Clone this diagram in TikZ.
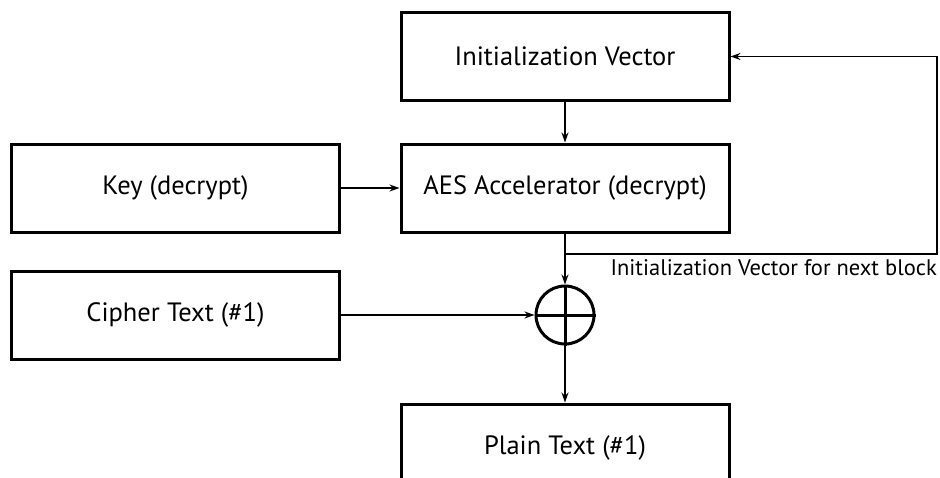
\documentclass[tikz,border=0pt]{standalone}
\usepackage{fontspec}
\setmainfont{PT Sans}
\usetikzlibrary{arrows.meta}
\begin{document}
\begin{tikzpicture}[x=1pt,y=-1pt,
  blk/.style={draw, line width=3pt, minimum width=328pt, minimum height=88pt, inner sep=0pt, font=\fontsize{26.5}{30}\selectfont},
  xorgate/.style={draw, circle, line width=3pt, minimum size=58pt, inner sep=0pt},
  arr/.style={line width=1.6pt, -{Stealth[length=10pt,width=7pt]}},
  ln/.style={line width=1.6pt}]
\clip (0,0) rectangle (940,477);
\node[blk] (iv) at (565,56.5) {Initialization Vector};
\node[blk] (aes) at (565,188) {AES Accelerator (decrypt)};
\node[blk] (key) at (175.5,188) {Key (decrypt)};
\node[blk] (ct) at (175.5,315) {Cipher Text (\#1)};
\node[blk] (pt) at (565,448) {Plain Text (\#1)};
\node[xorgate] (x) at (565,315) {};
\draw[line width=3pt] (x.north) -- (x.south) (x.west) -- (x.east);
\coordinate (br) at (565,254);
\coordinate (rc) at (937,254);
\coordinate (tc) at (937,56.5);
\draw[arr] (iv) -- (aes);
\draw[arr] (key) -- (aes);
\draw[arr] (aes) -- (x);
\draw[arr] (ct) -- (x);
\draw[arr] (x) -- (pt);
\draw[arr] (br) -- (rc) -- (tc) -- (iv.east);
\node[anchor=north east, inner sep=0pt, font=\fontsize{22.5}{26}\selectfont] (lbl) at (937,259) {Initialization Vector for next block};
\end{tikzpicture}
\end{document}
